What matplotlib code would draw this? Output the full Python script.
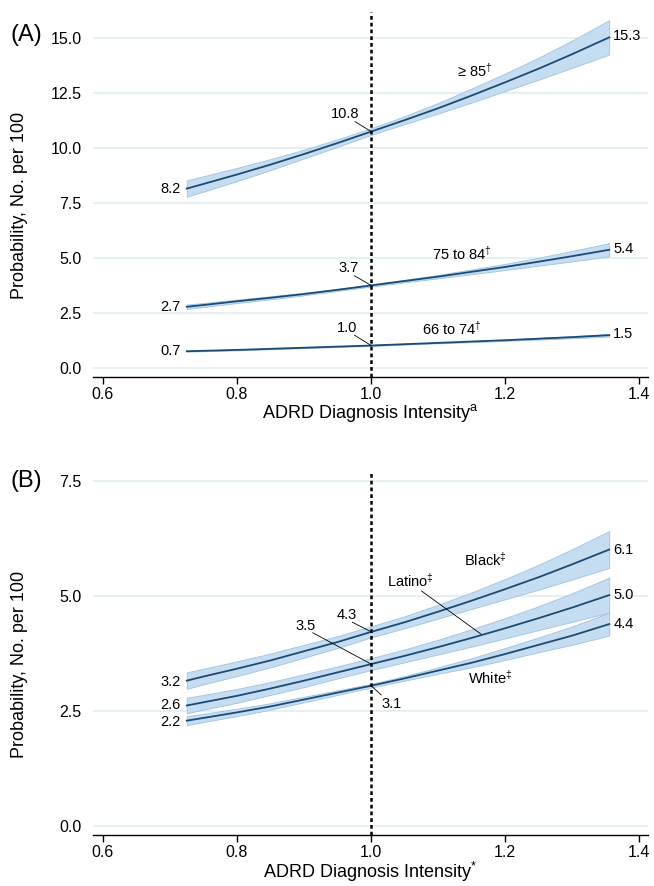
import matplotlib
matplotlib.use("Agg")
import matplotlib.pyplot as plt

plt.rcParams["font.family"] = ["Liberation Sans", "DejaVu Sans"]
plt.rcParams["mathtext.fontset"] = "custom"
plt.rcParams["mathtext.rm"] = "Liberation Sans"
plt.rcParams["mathtext.it"] = "Liberation Sans:italic"

# diagnosis intensity grid
intensity = [0.725, 0.75, 0.8, 0.85, 0.9, 0.95, 1.0, 1.05, 1.1, 1.15, 1.2, 1.25, 1.3, 1.355]

# panel A: age groups
age85_mid = [8.16, 8.37, 8.80, 9.25, 9.73, 10.23, 10.75, 11.27, 11.81, 12.39, 12.99, 13.61, 14.27, 15.03]
age85_lo = [7.79, 8.02, 8.50, 9.00, 9.53, 10.06, 10.60, 11.09, 11.57, 12.07, 12.59, 13.11, 13.65, 14.25]
age85_hi = [8.53, 8.72, 9.10, 9.50, 9.93, 10.40, 10.90, 11.45, 12.05, 12.71, 13.39, 14.11, 14.89, 15.81]

age75_mid = [2.79, 2.87, 3.04, 3.20, 3.37, 3.56, 3.76, 3.96, 4.16, 4.38, 4.60, 4.84, 5.09, 5.38]
age75_lo = [2.69, 2.78, 2.96, 3.13, 3.31, 3.51, 3.71, 3.90, 4.08, 4.27, 4.46, 4.66, 4.85, 5.08]
age75_hi = [2.89, 2.96, 3.12, 3.27, 3.43, 3.61, 3.81, 4.02, 4.24, 4.49, 4.74, 5.02, 5.33, 5.68]

age66_mid = [0.77, 0.79, 0.83, 0.88, 0.93, 0.98, 1.03, 1.09, 1.15, 1.21, 1.27, 1.34, 1.41, 1.50]
age66_lo = [0.75, 0.77, 0.81, 0.86, 0.91, 0.96, 1.01, 1.07, 1.13, 1.18, 1.24, 1.30, 1.36, 1.44]
age66_hi = [0.79, 0.81, 0.85, 0.90, 0.95, 1.00, 1.05, 1.11, 1.17, 1.24, 1.30, 1.38, 1.46, 1.56]

# panel B: race / ethnicity
black_mid = [3.16, 3.25, 3.42, 3.60, 3.80, 4.00, 4.22, 4.43, 4.66, 4.90, 5.15, 5.41, 5.69, 6.01]
black_lo = [2.98, 3.08, 3.26, 3.45, 3.66, 3.87, 4.10, 4.30, 4.51, 4.72, 4.93, 5.14, 5.36, 5.61]
black_hi = [3.34, 3.42, 3.58, 3.75, 3.94, 4.13, 4.34, 4.56, 4.81, 5.08, 5.37, 5.68, 6.02, 6.41]

latino_mid = [2.62, 2.69, 2.83, 2.99, 3.16, 3.34, 3.52, 3.70, 3.89, 4.09, 4.30, 4.52, 4.75, 5.02]
latino_lo = [2.45, 2.53, 2.68, 2.85, 3.02, 3.21, 3.39, 3.56, 3.73, 3.90, 4.08, 4.26, 4.44, 4.64]
latino_hi = [2.79, 2.85, 2.98, 3.13, 3.30, 3.47, 3.65, 3.84, 4.05, 4.28, 4.52, 4.78, 5.06, 5.40]

white_mid = [2.29, 2.35, 2.47, 2.60, 2.75, 2.90, 3.05, 3.21, 3.38, 3.55, 3.74, 3.94, 4.14, 4.39]
white_lo = [2.19, 2.26, 2.39, 2.53, 2.69, 2.85, 3.01, 3.16, 3.31, 3.45, 3.61, 3.78, 3.94, 4.14]
white_hi = [2.39, 2.44, 2.55, 2.67, 2.81, 2.95, 3.09, 3.26, 3.45, 3.65, 3.87, 4.10, 4.34, 4.64]

line_col = "#1b4a73"
band_col = "#c6ddf1"
band_edge = "#9cc3e4"
grid_col = "#e6f0f3"

fig = plt.figure(figsize=(6.54, 8.86), dpi=100)
axA = fig.add_axes([0.142, 0.5745, 0.849, 0.4124])
axB = fig.add_axes([0.142, 0.0573, 0.849, 0.4102])


def draw_band(ax, mid, lo, hi):
    ax.fill_between(intensity, lo, hi, facecolor=band_col, edgecolor=band_edge, lw=0.6, zorder=2)
    ax.plot(intensity, mid, color=line_col, lw=1.3, zorder=3)


def style(ax, yticks, ylim, xsup):
    ax.set_xlim(0.585, 1.413)
    ax.set_ylim(*ylim)
    ax.set_yticks(yticks)
    ax.set_yticklabels([f"{t:.1f}" for t in yticks])
    ax.set_xticks([0.6, 0.8, 1.0, 1.2, 1.4])
    ax.set_xticklabels(["0.6", "0.8", "1.0", "1.2", "1.4"])
    for t in yticks:
        ax.axhline(t, color=grid_col, lw=1.5, zorder=0)
    for s in ["top", "right", "left"]:
        ax.spines[s].set_visible(False)
    ax.spines["bottom"].set_linewidth(1.0)
    ax.tick_params(axis="y", length=0, pad=8, labelsize=11.5)
    ax.tick_params(axis="x", length=5, width=1, pad=2, labelsize=11.5)
    ax.axvline(1.0, color="black", lw=1.8, ls=(0, (1.5, 1.2)), zorder=4)
    ax.set_xlabel("ADRD Diagnosis Intensity$^{" + xsup + "}$", fontsize=13, labelpad=0)
    ax.set_ylabel("Probability, No. per 100", fontsize=13)
    ax.yaxis.set_label_coords(-0.117, 0.47)


def leader(ax, x0, y0, x1, y1):
    ax.plot([x0, x1], [y0, y1], color="black", lw=0.6, zorder=5)


fs = 10.5

# ---- panel A ----
draw_band(axA, age85_mid, age85_lo, age85_hi)
draw_band(axA, age75_mid, age75_lo, age75_hi)
draw_band(axA, age66_mid, age66_lo, age66_hi)
style(axA, [0.0, 2.5, 5.0, 7.5, 10.0, 12.5, 15.0], (-0.4, 16.2), r"\mathrm{a}")

axA.text(1.155, 13.5, "≥ 85$^{\\dagger}$", fontsize=fs, ha="center", va="center")
axA.text(0.961, 11.55, "10.8", fontsize=fs, ha="center", va="center")
leader(axA, 0.976, 11.2, 1.0, age85_mid[6])
axA.text(0.716, age85_mid[0], "8.2", fontsize=fs, ha="right", va="center")
axA.text(1.361, age85_mid[-1] + 0.05, "15.3", fontsize=fs, ha="left", va="center")

axA.text(1.136, 5.2, "75 to 84$^{\\dagger}$", fontsize=fs, ha="center", va="center")
axA.text(0.966, 4.55, "3.7", fontsize=fs, ha="center", va="center")
leader(axA, 0.975, 4.2, 1.0, age75_mid[6])
axA.text(0.716, age75_mid[0], "2.7", fontsize=fs, ha="right", va="center")
axA.text(1.361, age75_mid[-1] + 0.05, "5.4", fontsize=fs, ha="left", va="center")

axA.text(1.121, 1.77, "66 to 74$^{\\dagger}$", fontsize=fs, ha="center", va="center")
axA.text(0.964, 1.82, "1.0", fontsize=fs, ha="center", va="center")
leader(axA, 0.975, 1.5, 1.0, age66_mid[6])
axA.text(0.716, age66_mid[0], "0.7", fontsize=fs, ha="right", va="center")
axA.text(1.361, age66_mid[-1] + 0.05, "1.5", fontsize=fs, ha="left", va="center")

# ---- panel B ----
draw_band(axB, black_mid, black_lo, black_hi)
draw_band(axB, latino_mid, latino_lo, latino_hi)
draw_band(axB, white_mid, white_lo, white_hi)
style(axB, [0.0, 2.5, 5.0, 7.5], (-0.2, 7.7), "*")

axB.text(1.170, 5.78, "Black$^{\\ddagger}$", fontsize=fs, ha="center", va="center")
axB.text(1.058, 5.33, "Latino$^{\\ddagger}$", fontsize=fs, ha="center", va="center")
leader(axB, 1.075, 5.11, 1.164, 4.17)
axB.text(1.177, 3.22, "White$^{\\ddagger}$", fontsize=fs, ha="center", va="center")

axB.text(0.963, 4.59, "4.3", fontsize=fs, ha="center", va="center")
leader(axB, 0.972, 4.43, 1.0, black_mid[6])
axB.text(0.902, 4.35, "3.5", fontsize=fs, ha="center", va="center")
leader(axB, 0.913, 4.2, 1.0, latino_mid[6])
axB.text(1.031, 2.65, "3.1", fontsize=fs, ha="center", va="center")
leader(axB, 1.0, white_mid[6], 1.015, 2.85)

axB.text(0.716, black_mid[0] - 0.03, "3.2", fontsize=fs, ha="right", va="center")
axB.text(0.716, latino_mid[0], "2.6", fontsize=fs, ha="right", va="center")
axB.text(0.716, white_mid[0] - 0.03, "2.2", fontsize=fs, ha="right", va="center")
axB.text(1.361, black_mid[-1], "6.1", fontsize=fs, ha="left", va="center")
axB.text(1.361, latino_mid[-1], "5.0", fontsize=fs, ha="left", va="center")
axB.text(1.361, white_mid[-1], "4.4", fontsize=fs, ha="left", va="center")

fig.text(0.016, 1 - 35 / 886, "(A)", fontsize=17, ha="left", va="center")
fig.text(0.016, 1 - 481 / 886, "(B)", fontsize=17, ha="left", va="center")

fig.savefig("out.png", dpi=100)
